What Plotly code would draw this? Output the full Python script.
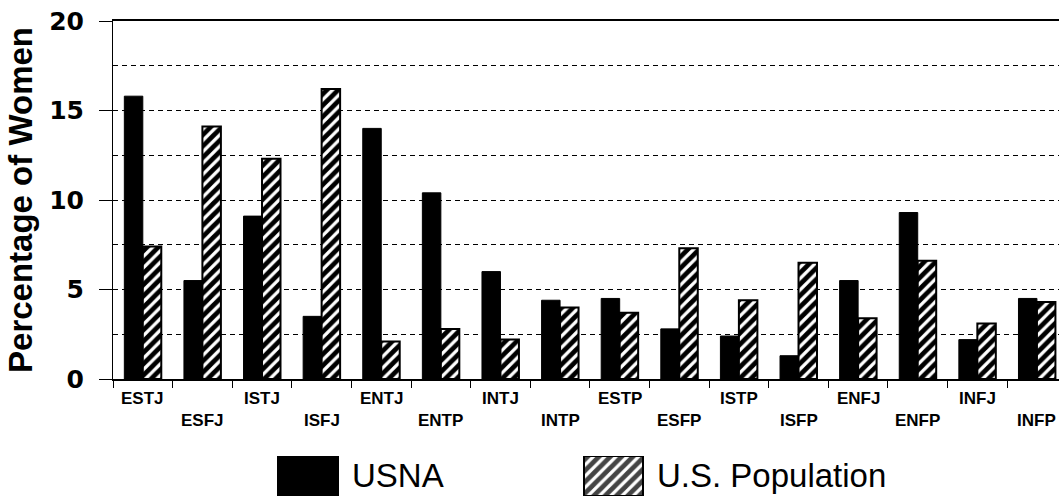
import plotly.graph_objects as go

categories = ["ESTJ", "ESFJ", "ISTJ", "ISFJ", "ENTJ", "ENTP", "INTJ", "INTP",
              "ESTP", "ESFP", "ISTP", "ISFP", "ENFJ", "ENFP", "INFJ", "INFP"]
usna = [15.8, 5.5, 9.1, 3.5, 14.0, 10.4, 6.0, 4.4, 4.5, 2.8, 2.4, 1.3, 5.5, 9.3, 2.2, 4.5]
us_population = [7.4, 14.1, 12.3, 16.2, 2.1, 2.8, 2.2, 4.0, 3.7, 7.3, 4.4, 6.5, 3.4, 6.6, 3.1, 4.3]
series_names = ["USNA", "U.S. Population"]
y_ticks = [0, 5, 10, 15, 20]

W, H = 1059, 496
FONT = "Liberation Sans"
HATCH = dict(shape="/", fgcolor="black", bgcolor="white", fgopacity=1,
             size=8, solidity=0.6)

fig = go.Figure()
fig.add_trace(go.Bar(
    x=categories, y=usna, name=series_names[0],
    marker=dict(color="black", line=dict(color="black", width=1)),
    showlegend=False, xaxis="x", yaxis="y",
))
fig.add_trace(go.Bar(
    x=categories, y=us_population, name=series_names[1],
    marker=dict(color="white", line=dict(color="black", width=2), pattern=HATCH),
    showlegend=False, xaxis="x", yaxis="y",
))

# Legend swatches drawn as bars on a hidden helper axis (pixel-like units)
fig.add_trace(go.Bar(
    x=[308, 613.5], y=[1, 1], width=[60, 59],
    marker=dict(color=["black", "white"], line=dict(color="black", width=2),
                pattern=dict(shape=["", "/"], fgcolor="black", bgcolor="white",
                             fgopacity=1, size=8, solidity=0.6)),
    showlegend=False, hoverinfo="skip", xaxis="x2", yaxis="y2",
))

plot_bottom = 379
y0_frac = (H - plot_bottom) / (H - 21)

annotations = []
for i, c in enumerate(categories):
    annotations.append(dict(
        x=c, xref="x", y=0, yref="y", text="<b>%s</b>" % c, showarrow=False,
        xanchor="center", yanchor="top", yshift=-8 if i % 2 == 0 else -30,
        font=dict(family=FONT, size=17, color="black"),
    ))
for name, xl in zip(series_names, [350, 655]):
    annotations.append(dict(
        x=xl, xref="x2", y=0.5, yref="y2", text=name, showarrow=False,
        xanchor="left", yanchor="middle", yshift=1,
        font=dict(family=FONT, size=33, color="black"),
    ))

fig.update_layout(
    width=W, height=H,
    margin=dict(l=0, r=0, t=21, b=0),
    paper_bgcolor="white", plot_bgcolor="white",
    barmode="group", bargap=0.38, bargroupgap=0,
    font=dict(family=FONT, color="black"),
    annotations=annotations,
    xaxis=dict(
        domain=[113 / W, 1], range=[-0.5, 15.37], type="category",
        showticklabels=False, showgrid=False, zeroline=False,
        showline=True, linecolor="black", linewidth=2, mirror=True,
        ticks="outside", tickson="boundaries", ticklen=7, tickcolor="black",
        tickwidth=1, automargin=False, fixedrange=True,
    ),
    yaxis=dict(
        domain=[y0_frac, 1], range=[0, 20], tickvals=y_ticks,
        ticktext=["<b>%d</b>" % v for v in y_ticks],
        tickfont=dict(family="DejaVu Sans", size=25, color="black"),
        ticks="outside", ticklen=13, tickcolor="black", tickwidth=1,
        ticklabelstandoff=10,
        showgrid=True, gridcolor="black", gridwidth=1, griddash="5px,4px",
        minor=dict(dtick=2.5, showgrid=True, gridcolor="black", gridwidth=1,
                   griddash="5px,4px"),
        zeroline=False, showline=True, linecolor="black", linewidth=1,
        title=dict(text="<b>Percentage of Women</b>",
                   font=dict(family=FONT, size=33, color="black"), standoff=6),
        automargin=False, fixedrange=True,
    ),
    xaxis2=dict(domain=[0, 1], range=[0, W], visible=False, fixedrange=True,
                anchor="y2"),
    yaxis2=dict(domain=[0, (H - 456) / (H - 21)], range=[0, 1], visible=False,
                fixedrange=True, anchor="x2"),
)

fig.write_html("out.html", config={"displayModeBar": False},
               post_script="document.body.style.margin='0';"
                           "document.body.style.overflow='hidden';")
